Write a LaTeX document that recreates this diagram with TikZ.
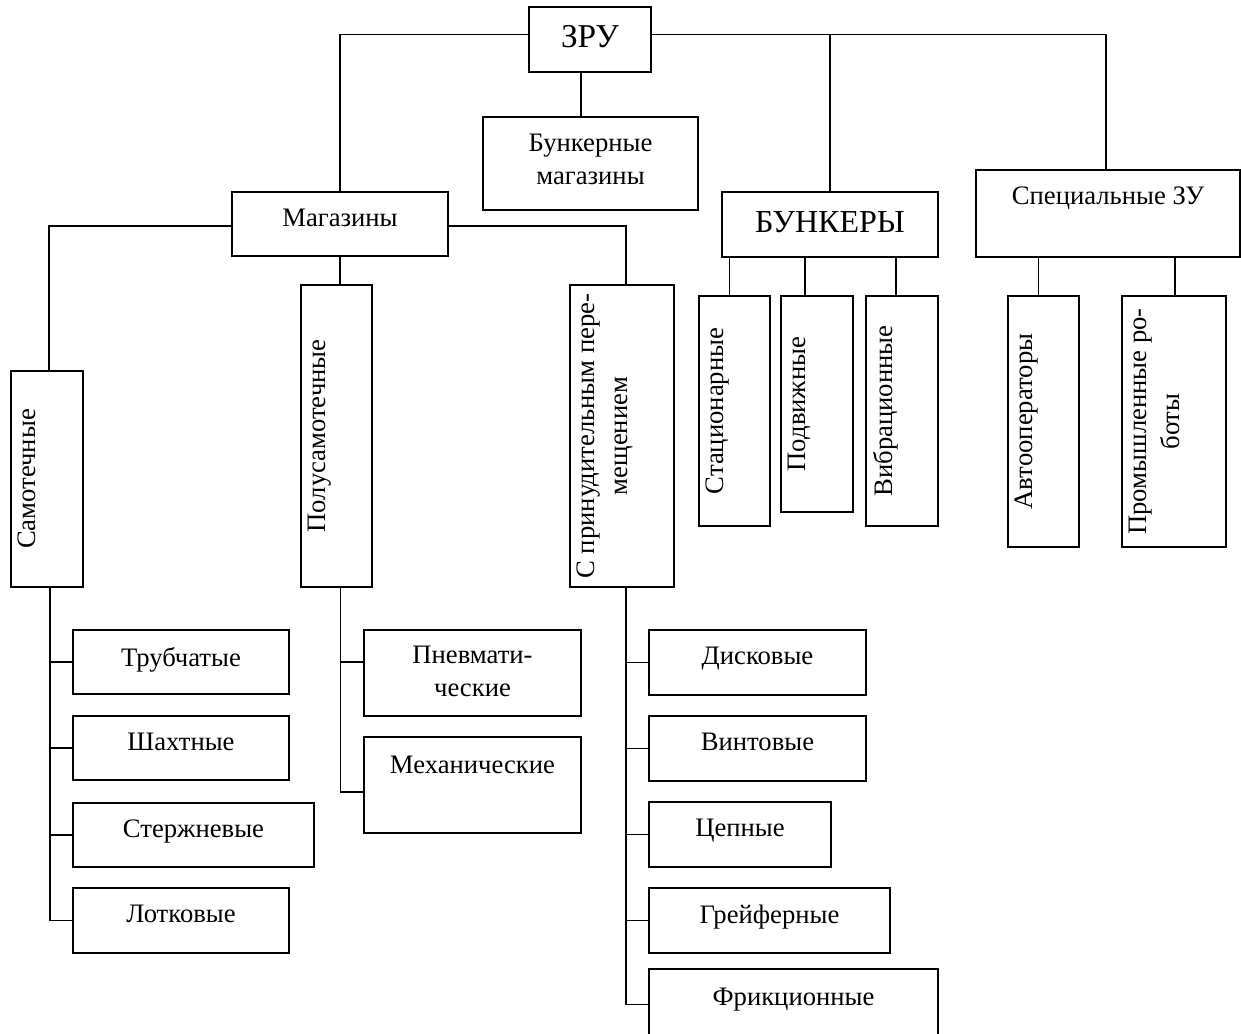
\documentclass[tikz,border=0pt]{standalone}
\usepackage{fontspec}
\setmainfont{Liberation Serif}
\usetikzlibrary{calc}
\tikzset{
  box/.style={draw, line width=1.6pt, rectangle, inner sep=0pt},
  conn/.style={draw, line width=1.4pt},
  lbl/.style={inner sep=0pt, align=center, font=\fontsize{20}{24.5}\selectfont},
  big/.style={font=\fontsize{25}{28}\selectfont},
  mid/.style={font=\fontsize{24}{27}\selectfont}
}
\newcommand\mkbox[5]{\node[box, minimum width={(#4-#2)*0.75pt}, minimum height={(#5-#3)*0.75pt}] (#1) at ({(#2+#4)/2},{(#3+#5)/2}) {};}
\newcommand\htext[4]{\node[lbl,anchor=north,#4] (#1-t) at ($(#1.north)+(0,#3)$) {#2};}
\newcommand\vtext[3]{\node[lbl,rotate=90,anchor=north,#3] (#1-t) at ($(#1.west)+(8,0)$) {#2};}
\begin{document}
\begin{tikzpicture}[x=0.75pt,y=-0.75pt]
\useasboundingbox (0,0) rectangle (1241,1033);
% boxes
\mkbox{zru}{529}{7}{651}{72}
\mkbox{bm}{483}{117}{698}{210}
\mkbox{mag}{232}{192}{448}{256}
\mkbox{bunk}{722}{192}{938}{257}
\mkbox{spec}{976}{170}{1240}{257}
\mkbox{samo}{11}{371}{83}{587}
\mkbox{polu}{301}{285}{372}{587}
\mkbox{prin}{570}{285}{674}{587}
\mkbox{stat}{699}{296}{770}{526}
\mkbox{podv}{781}{296}{853}{512}
\mkbox{vibr}{866}{296}{938}{526}
\mkbox{auto}{1008}{296}{1079}{547}
\mkbox{prom}{1122}{296}{1226}{547}
\mkbox{tru}{73}{630}{289}{694}
\mkbox{shakh}{73}{716}{289}{780}
\mkbox{sterzh}{73}{803}{314}{867}
\mkbox{lotk}{73}{888}{289}{953}
\mkbox{pnev}{364}{630}{581}{716}
\mkbox{mech}{364}{737}{581}{833}
\mkbox{disk}{649}{630}{866}{695}
\mkbox{vint}{649}{716}{866}{781}
\mkbox{cep}{649}{802}{831}{867}
\mkbox{grei}{649}{888}{890}{953}
\mkbox{frik}{649}{969}{938}{1040}
% horizontal texts
\htext{zru}{ЗРУ}{19}{big}
\htext{bm}{Бункерные\\магазины}{18}{}
\htext{mag}{Магазины}{18}{}
\htext{bunk}{БУНКЕРЫ}{20}{mid}
\htext{spec}{Специальные ЗУ}{18}{}
\htext{tru}{Трубчатые}{18}{}
\htext{shakh}{Шахтные}{18}{}
\htext{sterzh}{Стержневые}{18}{}
\htext{lotk}{Лотковые}{18}{}
\htext{pnev}{Пневмати-\\ческие}{17}{}
\htext{mech}{Механические}{20}{}
\htext{disk}{Дисковые}{18}{}
\htext{vint}{Винтовые}{18}{}
\htext{cep}{Цепные}{18}{}
\htext{grei}{Грейферные}{18}{}
\htext{frik}{Фрикционные}{20}{}
% vertical texts
\vtext{samo}{Самотечные}{}
\vtext{polu}{Полусамотечные}{}
\vtext{prin}{С принудительным пере-\\мещением}{}
\vtext{stat}{Стационарные}{}
\vtext{podv}{Подвижные}{}
\vtext{vibr}{Вибрационные}{}
\vtext{auto}{Автооператоры}{}
\vtext{prom}{Промышленные ро-\\боты}{}
% connectors from ZRU
\coordinate (zl) at ($(zru.west)+(0,-5)$);
\coordinate (zr) at ($(zru.east)+(0,-5)$);
\coordinate (zs) at ($(zru.south)+(-9,0)$);
\draw[conn] (zl) -| (mag.north);
\draw[conn] (zr) -| ($(spec.north)+(-2,0)$);
\draw[conn] (bunk.north |- zr) -- (bunk.north);
\draw[conn] (zs) -- (zs |- bm.north);
% connectors from Magaziny
\coordinate (ml) at ($(mag.west)+(0,2)$);
\coordinate (mr) at ($(mag.east)+(0,2)$);
\draw[conn] (ml) -| ($(samo.north)+(2,0)$);
\draw[conn] (mr) -| ($(prin.north)+(4,0)$);
\draw[conn] (mag.south) -- (mag.south |- polu.north);
% bunkers children
\coordinate (b1) at ($(stat.north)+(-5,0)$);
\coordinate (b2) at ($(podv.north)+(-12,0)$);
\coordinate (b3) at ($(vibr.north)+(-6,0)$);
\draw[conn] (b1 |- bunk.south) -- (b1);
\draw[conn] (b2 |- bunk.south) -- (b2);
\draw[conn] (b3 |- bunk.south) -- (b3);
% special children
\coordinate (s1) at ($(auto.north)+(-5,0)$);
\coordinate (s2) at ($(prom.north)+(1,0)$);
\draw[conn] (s1 |- spec.south) -- (s1);
\draw[conn] (s2 |- spec.south) -- (s2);
% samotechnye trunk
\coordinate (samoT) at ($(samo.south)+(3,0)$);
\draw[conn] (samoT) |- (lotk.west);
\draw[conn] (tru.west) -- (tru.west -| samoT);
\draw[conn] (shakh.west) -- (shakh.west -| samoT);
\draw[conn] (sterzh.west) -- (sterzh.west -| samoT);
% polusamotechnye trunk
\coordinate (poluT) at ($(polu.south)+(4,0)$);
\coordinate (pb1) at ($(pnev.west)+(0,-11)$);
\coordinate (pb2) at ($(mech.west)+(0,7)$);
\draw[conn] (poluT) |- (pb2);
\draw[conn] (pb1) -- (pb1 -| poluT);
% prinuditelnym trunk
\coordinate (prinT) at ($(prin.south)+(4,0)$);
\draw[conn] (prinT) |- (frik.west);
\draw[conn] (disk.west) -- (disk.west -| prinT);
\draw[conn] (vint.west) -- (vint.west -| prinT);
\draw[conn] (cep.west) -- (cep.west -| prinT);
\draw[conn] (grei.west) -- (grei.west -| prinT);
\end{tikzpicture}
\end{document}
